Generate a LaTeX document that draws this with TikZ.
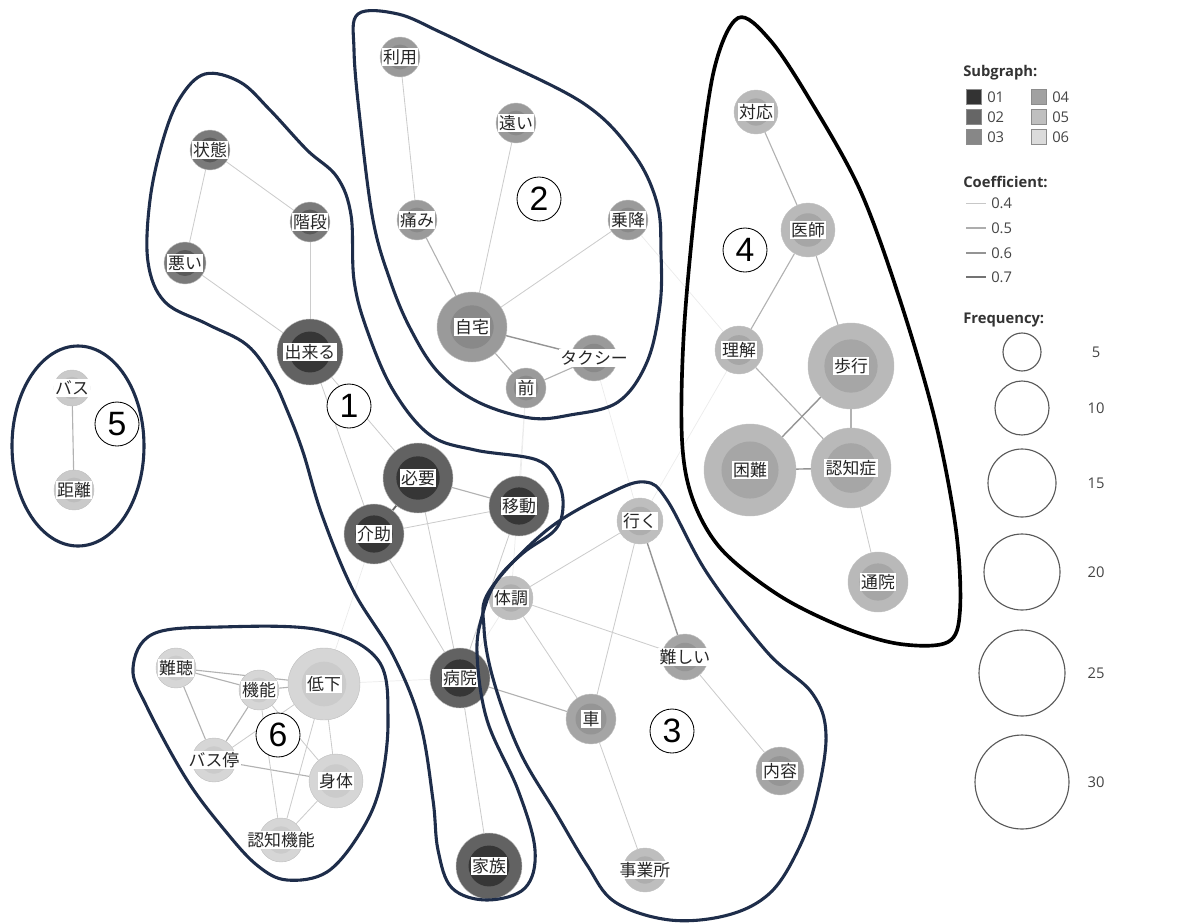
\documentclass[tikz,border=0pt]{standalone}
\usepackage{fontspec}
\setmainfont{Open Sans}
\newfontfamily\jp{Noto Sans CJK JP}
\newfontfamily\numf{Liberation Sans}
\pgfdeclarelayer{bg}
\pgfsetlayers{bg,main}
\definecolor{hull}{HTML}{1E2D4A}
\definecolor{cAo}{HTML}{626262}\definecolor{cAi}{HTML}{363636}
\definecolor{cBo}{HTML}{7A7A7A}\definecolor{cBi}{HTML}{595959}
\definecolor{cCo}{HTML}{9A9A9A}\definecolor{cCi}{HTML}{898989}
\definecolor{cDo}{HTML}{B9B9B9}\definecolor{cDi}{HTML}{A6A6A6}
\definecolor{cEo}{HTML}{BEBEBE}\definecolor{cEi}{HTML}{AEAEAE}
\definecolor{cFo}{HTML}{D6D6D6}\definecolor{cFi}{HTML}{CBCBCB}
\definecolor{cGo}{HTML}{A5A5A5}\definecolor{cGi}{HTML}{959595}
\definecolor{cHo}{HTML}{CACACA}\definecolor{cHi}{HTML}{BDBDBD}
\definecolor{legtxt}{HTML}{444444}
\tikzset{
  kwout/.style={circle, inner sep=0pt, draw=black!25, line width=0.3pt},
  kwlab/.style={fill=white, inner sep=1.1pt, font=\jp\fontsize{12}{12}\selectfont, text=black!85},
  eA/.style={draw=black!20, line width=0.6pt},
  eB/.style={draw=black!30, line width=0.8pt},
  eC/.style={draw=black!42, line width=1.0pt},
  eD/.style={draw=black!60, line width=1.3pt},
  eF/.style={draw=black!8, line width=0.5pt},
  hullline/.style={draw=hull, line width=2.2pt},
  hullblack/.style={draw=black, line width=2.6pt},
  numcirc/.style={circle, draw=black, line width=0.6pt, minimum size=1.1cm, inner sep=0pt, font=\numf\fontsize{24}{24}\selectfont},
  legsq/.style={draw=black!45, line width=0.5pt, minimum size=0.37cm, inner sep=0pt},
  legtext/.style={font=\fontsize{10.5}{11}\selectfont, text=legtxt, anchor=west, inner sep=0pt},
  leghead/.style={font=\bfseries\fontsize{10.5}{11}\selectfont, text=black!80, anchor=west, inner sep=0pt},
  legcirc/.style={circle, draw=black!65, line width=0.8pt, inner sep=0pt}
}
\newcommand{\kw}[7]{%
  \node[kwout, minimum size={2*#4*0.025cm}, fill=#5] (#1) at (#2,#3) {};
  \fill[#6] (#1.center) circle[radius={#4*0.62*0.025cm}];
  \node[kwlab] (#1-l) at (#1.center) {#7};
}
\begin{document}
\begin{tikzpicture}[x=0.025cm, y=-0.025cm]
\useasboundingbox (0,0) rectangle (1203,922);
% ---------- nodes ----------
% cluster 1
\kw{jotai}{210}{150}{20}{cBo}{cBi}{状態}
\kw{kaidan}{310}{222}{20}{cBo}{cBi}{階段}
\kw{warui}{185}{263}{21}{cBo}{cBi}{悪い}
\kw{dekiru}{310}{352}{33}{cAo}{cAi}{出来る}
\kw{hitsuyo}{418}{478}{35}{cAo}{cAi}{必要}
\kw{kaijo}{374}{534}{30}{cAo}{cAi}{介助}
\kw{ido}{519}{506}{30}{cAo}{cAi}{移動}
\kw{byoin}{460}{678}{30}{cAo}{cAi}{病院}
\kw{kazoku}{489}{866}{33}{cAo}{cAi}{家族}
% cluster 2
\kw{riyo}{400}{57}{20}{cCo}{cCi}{利用}
\kw{tooi}{516}{123}{20}{cCo}{cCi}{遠い}
\kw{itami}{417}{220}{20}{cCo}{cCi}{痛み}
\kw{joko}{628}{220}{20}{cCo}{cCi}{乗降}
\kw{jitaku}{472}{327}{35}{cCo}{cCi}{自宅}
\kw{taxi}{594}{358}{23}{cCo}{cCi}{タクシー}
\kw{mae}{526}{388}{20}{cCo}{cCi}{前}
% cluster 4
\kw{taio}{756}{112}{22}{cDo}{cDi}{対応}
\kw{ishi}{808}{230}{27}{cDo}{cDi}{医師}
\kw{rikai}{739}{350}{24}{cDo}{cDi}{理解}
\kw{hoko}{851}{366}{43}{cDo}{cDi}{歩行}
\kw{konnan}{750}{470}{46}{cDo}{cDi}{困難}
\kw{ninchi}{851}{468}{40}{cDo}{cDi}{認知症}
\kw{tsuin}{878}{582}{30}{cDo}{cDi}{通院}
% cluster 3
\kw{iku}{640}{521}{23}{cEo}{cEi}{行く}
\kw{taicho}{511}{598}{22}{cEo}{cEi}{体調}
\kw{muzu}{685}{657}{23}{cGo}{cGi}{難しい}
\kw{kuruma}{591}{719}{25}{cGo}{cGi}{車}
\kw{naiyo}{780}{771}{24}{cGo}{cGi}{内容}
\kw{jigyo}{645}{870}{22}{cEo}{cEi}{事業所}
% cluster 6
\kw{nancho}{176}{668}{20}{cFo}{cFi}{難聴}
\kw{kino}{259}{690}{20}{cFo}{cFi}{機能}
\kw{teika}{324}{684}{36}{cFo}{cFi}{低下}
\kw{basutei}{214}{760}{22}{cFo}{cFi}{バス停}
\kw{shintai}{336}{781}{27}{cFo}{cFi}{身体}
\kw{ninkino}{281}{840}{22}{cFo}{cFi}{認知機能}
% cluster 5
\kw{basu}{72}{388}{18}{cHo}{cHi}{バス}
\kw{kyori}{74}{490}{20}{cHo}{cHi}{距離}
% ---------- edges ----------
\begin{pgfonlayer}{bg}
% faint inter-cluster
\draw[eF] (rikai) -- (iku);
\draw[eF] (joko) -- (rikai);
\draw[eF] (mae) -- (taicho);
\draw[eF] (taxi) -- (iku);
\draw[eF] (teika) -- (kaijo);
\draw[eF] (byoin) -- (taicho);
\draw[eF] (mae) -- (ido);
\draw[eF] (teika) -- (byoin);
\draw[eB] (kuruma) -- (byoin);
% cluster 1
\draw[eA] (jotai) -- (kaidan);
\draw[eA] (jotai) -- (warui);
\draw[eA] (kaidan) -- (dekiru);
\draw[eA] (warui) -- (dekiru);
\draw[eA] (dekiru) -- (hitsuyo);
\draw[eA] (dekiru) -- (kaijo);
\draw[eD] (hitsuyo) -- (kaijo);
\draw[eB] (hitsuyo) -- (ido);
\draw[eA] (kaijo) -- (ido);
\draw[eA] (hitsuyo) -- (byoin);
\draw[eA] (kaijo) -- (byoin);
\draw[eA] (ido) -- (byoin);
\draw[eA] (byoin) -- (kazoku);
% cluster 2
\draw[eA] (riyo) -- (itami);
\draw[eB] (itami) -- (jitaku);
\draw[eA] (tooi) -- (jitaku);
\draw[eA] (joko) -- (jitaku);
\draw[eC] (jitaku) -- (taxi);
\draw[eB] (jitaku) -- (mae);
\draw[eB] (mae) -- (taxi);
% cluster 4
\draw[eB] (taio) -- (ishi);
\draw[eB] (ishi) -- (rikai);
\draw[eB] (ishi) -- (hoko);
\draw[eB] (rikai) -- (ninchi);
\draw[eC] (hoko) -- (konnan);
\draw[eB] (hoko) -- (ninchi);
\draw[eC] (konnan) -- (ninchi);
\draw[eA] (ninchi) -- (tsuin);
% cluster 3
\draw[eA] (iku) -- (taicho);
\draw[eA] (iku) -- (kuruma);
\draw[eC] (iku) -- (muzu);
\draw[eA] (taicho) -- (muzu);
\draw[eA] (taicho) -- (kuruma);
\draw[eA] (muzu) -- (naiyo);
\draw[eA] (kuruma) -- (jigyo);
% cluster 6
\draw[eB] (nancho) -- (kino);
\draw[eB] (nancho) -- (teika);
\draw[eB] (kino) -- (teika);
\draw[eB] (nancho) -- (basutei);
\draw[eB] (kino) -- (basutei);
\draw[eA] (basutei) -- (teika);
\draw[eB] (basutei) -- (shintai);
\draw[eA] (kino) -- (shintai);
\draw[eA] (teika) -- (shintai);
\draw[eA] (teika) -- (ninkino);
\draw[eA] (shintai) -- (ninkino);
\draw[eA] (kino) -- (ninkino);
% cluster 5
\draw[eB] (basu) -- (kyori);
\end{pgfonlayer}
% ---------- hulls ----------
\draw[hullline] plot[smooth cycle, tension=0.6] coordinates {
 (205,74) (240,82) (270,110) (307,150) (337,177) (351,215) (354,280) (367,330)
 (393,390) (430,435) (475,450) (537,460) (558,482) (563,507) (555,530) (523,553)
 (497,580) (483,613) (477,653) (487,720) (518,790) (535,850) (525,888) (487,900)
 (452,888) (438,850) (433,800) (420,722) (393,655) (353,590) (322,515) (303,452)
 (287,410) (272,378) (247,345) (207,324) (165,302) (148,262) (150,200) (163,140) (180,98)};
\draw[hullline] plot[smooth cycle, tension=0.6] coordinates {
 (358,14) (398,14) (440,32) (483,53) (583,103) (633,153) (657,203) (661,253)
 (660,305) (647,362) (618,402) (570,415) (530,418) (478,402) (438,372) (410,328)
 (390,280) (373,220) (360,120) (354,50)};
\draw[hullline] plot[smooth cycle, tension=0.6] coordinates {
 (490,590) (547,530) (610,493) (645,482) (667,500) (707,573) (767,652) (812,693)
 (826,735) (816,800) (798,850) (770,893) (728,915) (670,920) (615,902) (587,865)
 (556,813) (520,752) (494,682) (484,628)};
\draw[hullblack] plot[smooth cycle, tension=0.55] coordinates {
 (738,18) (770,40) (810,100) (860,190) (900,300) (935,420) (956,530) (960,610)
 (948,642) (900,644) (845,628) (780,596) (722,550) (693,500) (682,440) (684,330)
 (697,190) (714,70)};
\draw[hullline] (78,446) ellipse[x radius=66, y radius=100];
\draw[hullline] plot[smooth cycle, tension=0.6] coordinates {
 (153,634) (220,627) (320,630) (378,660) (388,720) (380,787) (360,833) (327,872)
 (287,880) (258,866) (227,833) (187,780) (147,707) (133,668)};
% ---------- circled numbers ----------
\node[numcirc, fill=white] (n1) at (349,406) {1};
\node[numcirc, fill=white] (n2) at (539,199) {2};
\node[numcirc, fill=white] (n3) at (672,731) {3};
\node[numcirc, fill=white] (n4) at (745,250) {4};
\node[numcirc, fill=white] (n5) at (117,424) {5};
\node[numcirc, fill=white] (n6) at (278,735) {6};
% ---------- legend ----------
\node[leghead] (lsub) at (963,73) {Subgraph:};
\node[legsq, fill=black!80] (s1) at (974,97) {};
\node[legsq, fill=black!60] (s2) at (974,117) {};
\node[legsq, fill=black!47] (s3) at (974,137) {};
\node[legsq, fill=black!37] (s4) at (1039,97) {};
\node[legsq, fill=black!25] (s5) at (1039,117) {};
\node[legsq, fill=black!14] (s6) at (1039,137) {};
\node[legtext] (t1) at (987,97) {01};
\node[legtext] (t2) at (987,117) {02};
\node[legtext] (t3) at (987,137) {03};
\node[legtext] (t4) at (1052,97) {04};
\node[legtext] (t5) at (1052,117) {05};
\node[legtext] (t6) at (1052,137) {06};
\node[leghead] (lcoef) at (963,182) {Coefficient:};
\foreach \v/\yy/\c/\w in {0.4/203/22/0.6, 0.5/228/32/0.8, 0.6/253/42/1.0, 0.7/277/55/1.3} {
  \coordinate (la\yy) at (966,\yy);
  \coordinate (lb\yy) at (986,\yy);
  \draw[draw=black!\c, line width=\w pt] (la\yy) -- (lb\yy);
  \node[legtext] (lt\yy) at (991,\yy) {\v};
}
\node[leghead] (lfreq) at (963,320) {Frequency:};
\foreach \r/\yy/\lab in {19/352/5, 27/408/10, 34/483/15, 38/572/20, 43/673/25, 47/782/30} {
  \node[legcirc, minimum size={2*\r*0.025cm}] (fc\lab) at (1022,\yy) {};
  \node[font=\fontsize{10.5}{11}\selectfont, text=legtxt, inner sep=0pt] (fl\lab) at (1096,\yy) {\lab};
}
\end{tikzpicture}
\end{document}
